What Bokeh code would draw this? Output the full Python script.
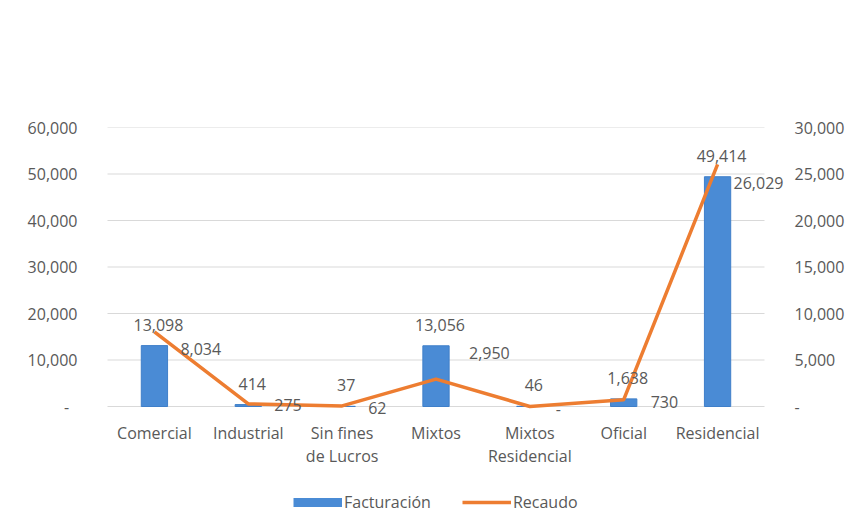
from bokeh.plotting import figure
from bokeh.models import (ColumnDataSource, FactorRange, Range1d, LinearAxis,
                          FixedTicker, NumeralTickFormatter, Legend, LegendItem)
from bokeh.embed import file_html
from bokeh.resources import INLINE
from bokeh.core.properties import value

# ---- data ----
categories = ["Comercial", "Industrial", "Sin fines\nde Lucros", "Mixtos",
              "Mixtos\nResidencial", "Oficial", "Residencial"]
facturacion = [13098, 414, 37, 13056, 46, 1638, 49414]
recaudo = [8034, 275, 62, 2950, 0, 730, 26029]
left_ticks = [0, 10000, 20000, 30000, 40000, 50000, 60000]
right_ticks = [0, 5000, 10000, 15000, 20000, 25000, 30000]

# label placement (screen px) for the line's labels
rec_dx = [26, 26, 26, 33, 26, 27, 16]
rec_dy = [17, 1, 2, -26, 2, 2, 19]

FONT = "Open Sans"
FS = "16px"
GRAY = "#595959"
BLUE = "#4a8bd5"
ORANGE = "#ED7D31"

# ---- layout (pixels) ----
W, H = 850, 529
FRAME_L, FRAME_R = 85, 786        # frame extended so labels are not clipped
PLOT_L, PLOT_R = 107, 764         # where the category band sits
Y_TOP, Y_ZERO = 127, 406          # pixel rows of max tick and zero
n = len(categories)
unit = (PLOT_R - PLOT_L) / n
pad = (PLOT_L - FRAME_L) / unit
px_per = (Y_ZERO - Y_TOP)
left_max, right_max = left_ticks[-1], right_ticks[-1]
left_min = -(H - Y_ZERO) / px_per * left_max
right_min = -(H - Y_ZERO) / px_per * right_max


def fmt(v):
    return "-" if v == 0 else f"{v:,}"


bar_src = ColumnDataSource(dict(x=categories, y=facturacion,
                                lab=[fmt(v) for v in facturacion]))
line_src = ColumnDataSource(dict(x=categories, y=recaudo,
                                 lab=[fmt(v) for v in recaudo],
                                 dx=rec_dx, dy=rec_dy))

p = figure(width=W, height=H,
           x_range=FactorRange(*categories, range_padding=pad,
                               range_padding_units="absolute"),
           y_range=Range1d(left_min, left_max), output_backend="svg",
           toolbar_location=None, x_axis_location=None,
           min_border_left=FRAME_L, min_border_right=W - FRAME_R,
           min_border_top=Y_TOP, min_border_bottom=0)
p.extra_y_ranges = {"right": Range1d(right_min, right_max)}
p.outline_line_color = None
p.background_fill_color = "white"
p.border_fill_color = "white"
p.xgrid.grid_line_color = None
p.ygrid.grid_line_color = None

# gridlines across the category band
p.segment(x0=0, x1=n, y0=left_ticks, y1=left_ticks,
          line_color="#d9d9d9", line_width=1)

bars = p.vbar(x="x", top="y", width=0.28, source=bar_src,
              fill_color=BLUE, line_color="#3f7fc9", line_width=1)
line = p.line(x="x", y="y", source=line_src, y_range_name="right",
              line_color=ORANGE, line_width=3.5, line_join="round")

p.text(x="x", y="y", text="lab", source=bar_src, x_offset=4, y_offset=-21,
       text_align="center", text_baseline="middle", text_font=value(FONT),
       text_font_size=FS, text_color=GRAY)
p.text(x="x", y="y", text="lab", source=line_src, y_range_name="right",
       x_offset="dx", y_offset="dy", text_align="left", text_baseline="middle",
       text_font=value(FONT), text_font_size=FS, text_color=GRAY)

# category labels under the zero line
p.text(x=categories, y=[0] * n, text=categories, y_offset=15,
       text_align="center", text_baseline="top", text_line_height=1.07,
       text_font=value(FONT), text_font_size=FS, text_color=GRAY)

# axes
p.yaxis.ticker = FixedTicker(ticks=left_ticks)
p.yaxis.formatter = NumeralTickFormatter(format="0,0")
p.yaxis.major_label_overrides = {0: "-\u00a0\u00a0"}
for ax in p.yaxis:
    ax.axis_line_color = None
    ax.major_tick_line_color = None
    ax.minor_tick_line_color = None
    ax.major_label_standoff = 2
    ax.major_label_text_font = FONT
    ax.major_label_text_font_size = FS
    ax.major_label_text_color = GRAY

ra = LinearAxis(y_range_name="right", ticker=FixedTicker(ticks=right_ticks),
                formatter=NumeralTickFormatter(format="0,0"))
ra.major_label_overrides = {0: "-"}
ra.axis_line_color = None
ra.major_tick_line_color = None
ra.minor_tick_line_color = None
ra.major_label_standoff = 2
ra.major_label_text_font = FONT
ra.major_label_text_font_size = FS
ra.major_label_text_color = GRAY
p.add_layout(ra, "right")

# legend (a thick blue stroke stands for the bars, as in the original)
bar_key = p.line(x=[categories[0]], y=[left_min * 2], line_color=BLUE,
                 line_width=9)
legend = Legend(items=[LegendItem(label="Facturación", renderers=[bar_key]),
                       LegendItem(label="Recaudo", renderers=[line])],
                orientation="horizontal", location=(293 - FRAME_L, 16),
                glyph_width=49, glyph_height=20, label_height=20,
                label_standoff=2, spacing=31,
                label_text_font=FONT, label_text_font_size=FS,
                label_text_color=GRAY, border_line_color=None,
                background_fill_alpha=0, padding=0, margin=0)
p.add_layout(legend)

open("out.html", "w").write(file_html(p, INLINE))
